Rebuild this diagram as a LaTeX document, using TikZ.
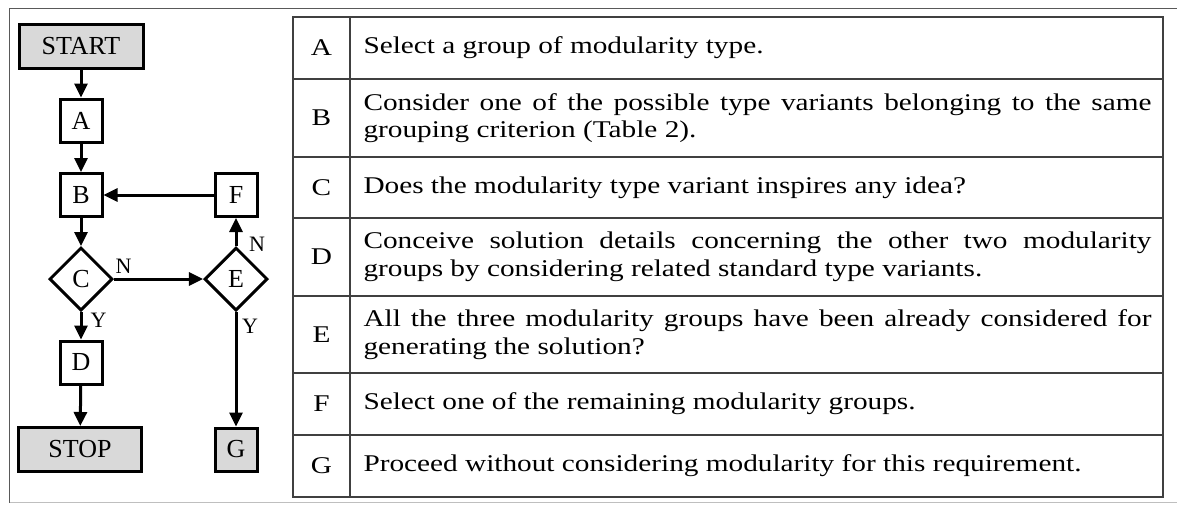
\documentclass[tikz,border=0pt]{standalone}
\usepackage{fontspec}
\setmainfont{Liberation Serif}
\newfontfamily\widefont[FakeStretch=1.22]{Liberation Serif}
\usetikzlibrary{shapes.geometric,arrows.meta}

\begin{document}
\begin{tikzpicture}[x=0.5pt, y=-0.5pt, every node/.style = {inner sep=0pt, align=center}]
	\tikzset{ box/.style = {shape=rectangle, draw, line width=1.5pt, minimum width=21pt, minimum height=21.5pt, font=\fontsize{13}{15}\selectfont} }
	\tikzset{ shaded/.style = {fill = black!15} }
	\tikzset{ terminal/.style = {box, shaded, minimum width=62pt, minimum height=22pt} }
	\tikzset{ decision/.style = {shape=diamond, draw, line width=1.5pt, minimum width=31.5pt, minimum height=31.5pt, font=\fontsize{13}{15}\selectfont} }
	\tikzset{ flow/.style = {line width=1.5pt, -{Triangle[length=7pt, width=6.5pt]}} }
	\tikzset{ lbl/.style = {font=\fontsize{11}{13}\selectfont} }
	\tikzset{ tbl/.style = {draw=black!75, line width=0.75pt} }
	\tikzset{ key/.style = {font=\widefont\fontsize{12}{13.8}\selectfont} }
	\tikzset{ desc/.style = {font=\widefont\fontsize{12}{13.8}\selectfont, text width=394pt, align=justify} }
	\useasboundingbox (0,0) rectangle (1177,504);
	\draw[black!65, line width=0.8pt] (1177,8.5) -- (9.5,8.5) -- (9.5,502.5);
	\draw[black!25, line width=0.8pt] (9.5,502.5) -- (1177,502.5);

	\node[terminal] (start) at (81,46) {START};
	\node[box] (A) at (81,120.5) {A};
	\node[box] (B) at (81,195) {B};
	\node[decision] (C) at (81,279) {C};
	\node[box] (D) at (81,362.5) {D};
	\node[terminal, minimum width=61.5pt] (stop) at (80,449.5) {STOP};
	\node[box] (F) at (236,195) {F};
	\node[decision] (E) at (236,279) {E};
	\node[box, shaded] (G) at (236,449.5) {G};

	\draw[flow] (start) -- (A);
	\draw[flow] (A) -- (B);
	\draw[flow] (B) -- (C);
	\draw[flow] (C) -- (D);
	\draw[flow] (D) -- (stop);
	\draw[flow] (C) -- (E);
	\draw[flow] (E) -- (F);
	\draw[flow] (F) -- (B);
	\draw[flow] (E) -- (G);
	\node[lbl] (cN) at (123.5,266) {N};
	\node[lbl] (cY) at (98.5,320) {Y};
	\node[lbl] (eN) at (257,244) {N};
	\node[lbl] (eY) at (250,326) {Y};

	\draw[tbl] (293,17) rectangle (1163,497);
	\draw[tbl] (350,17) -- (350,497);
	\foreach \y in {79,157,218,296,373,435}
		\draw[tbl] (293,\y) -- (1163,\y);

	\node[key] (kA) at (321.5,48) {A};
	\node[desc] (dA) at (757.5,48) {Select a group of modularity type.};
	\node[key] (kB) at (321.5,118) {B};
	\node[desc] (dB) at (757.5,118) {Consider one of the possible type variants belonging to the same grouping criterion (Table 2).};
	\node[key] (kC) at (321.5,187.5) {C};
	\node[desc] (dC) at (757.5,187.5) {Does the modularity type variant inspires any idea?};
	\node[key] (kD) at (321.5,257) {D};
	\node[desc] (dD) at (757.5,257) {Conceive solution details concerning the other two modularity groups by considering related standard type variants.};
	\node[key] (kE) at (321.5,334.5) {E};
	\node[desc] (dE) at (757.5,334.5) {All the three modularity groups have been already considered for generating the solution?};
	\node[key] (kF) at (321.5,404) {F};
	\node[desc] (dF) at (757.5,404) {Select one of the remaining modularity groups.};
	\node[key] (kG) at (321.5,466) {G};
	\node[desc] (dG) at (757.5,466) {Proceed without considering modularity for this requirement.};
\end{tikzpicture}
\end{document}
